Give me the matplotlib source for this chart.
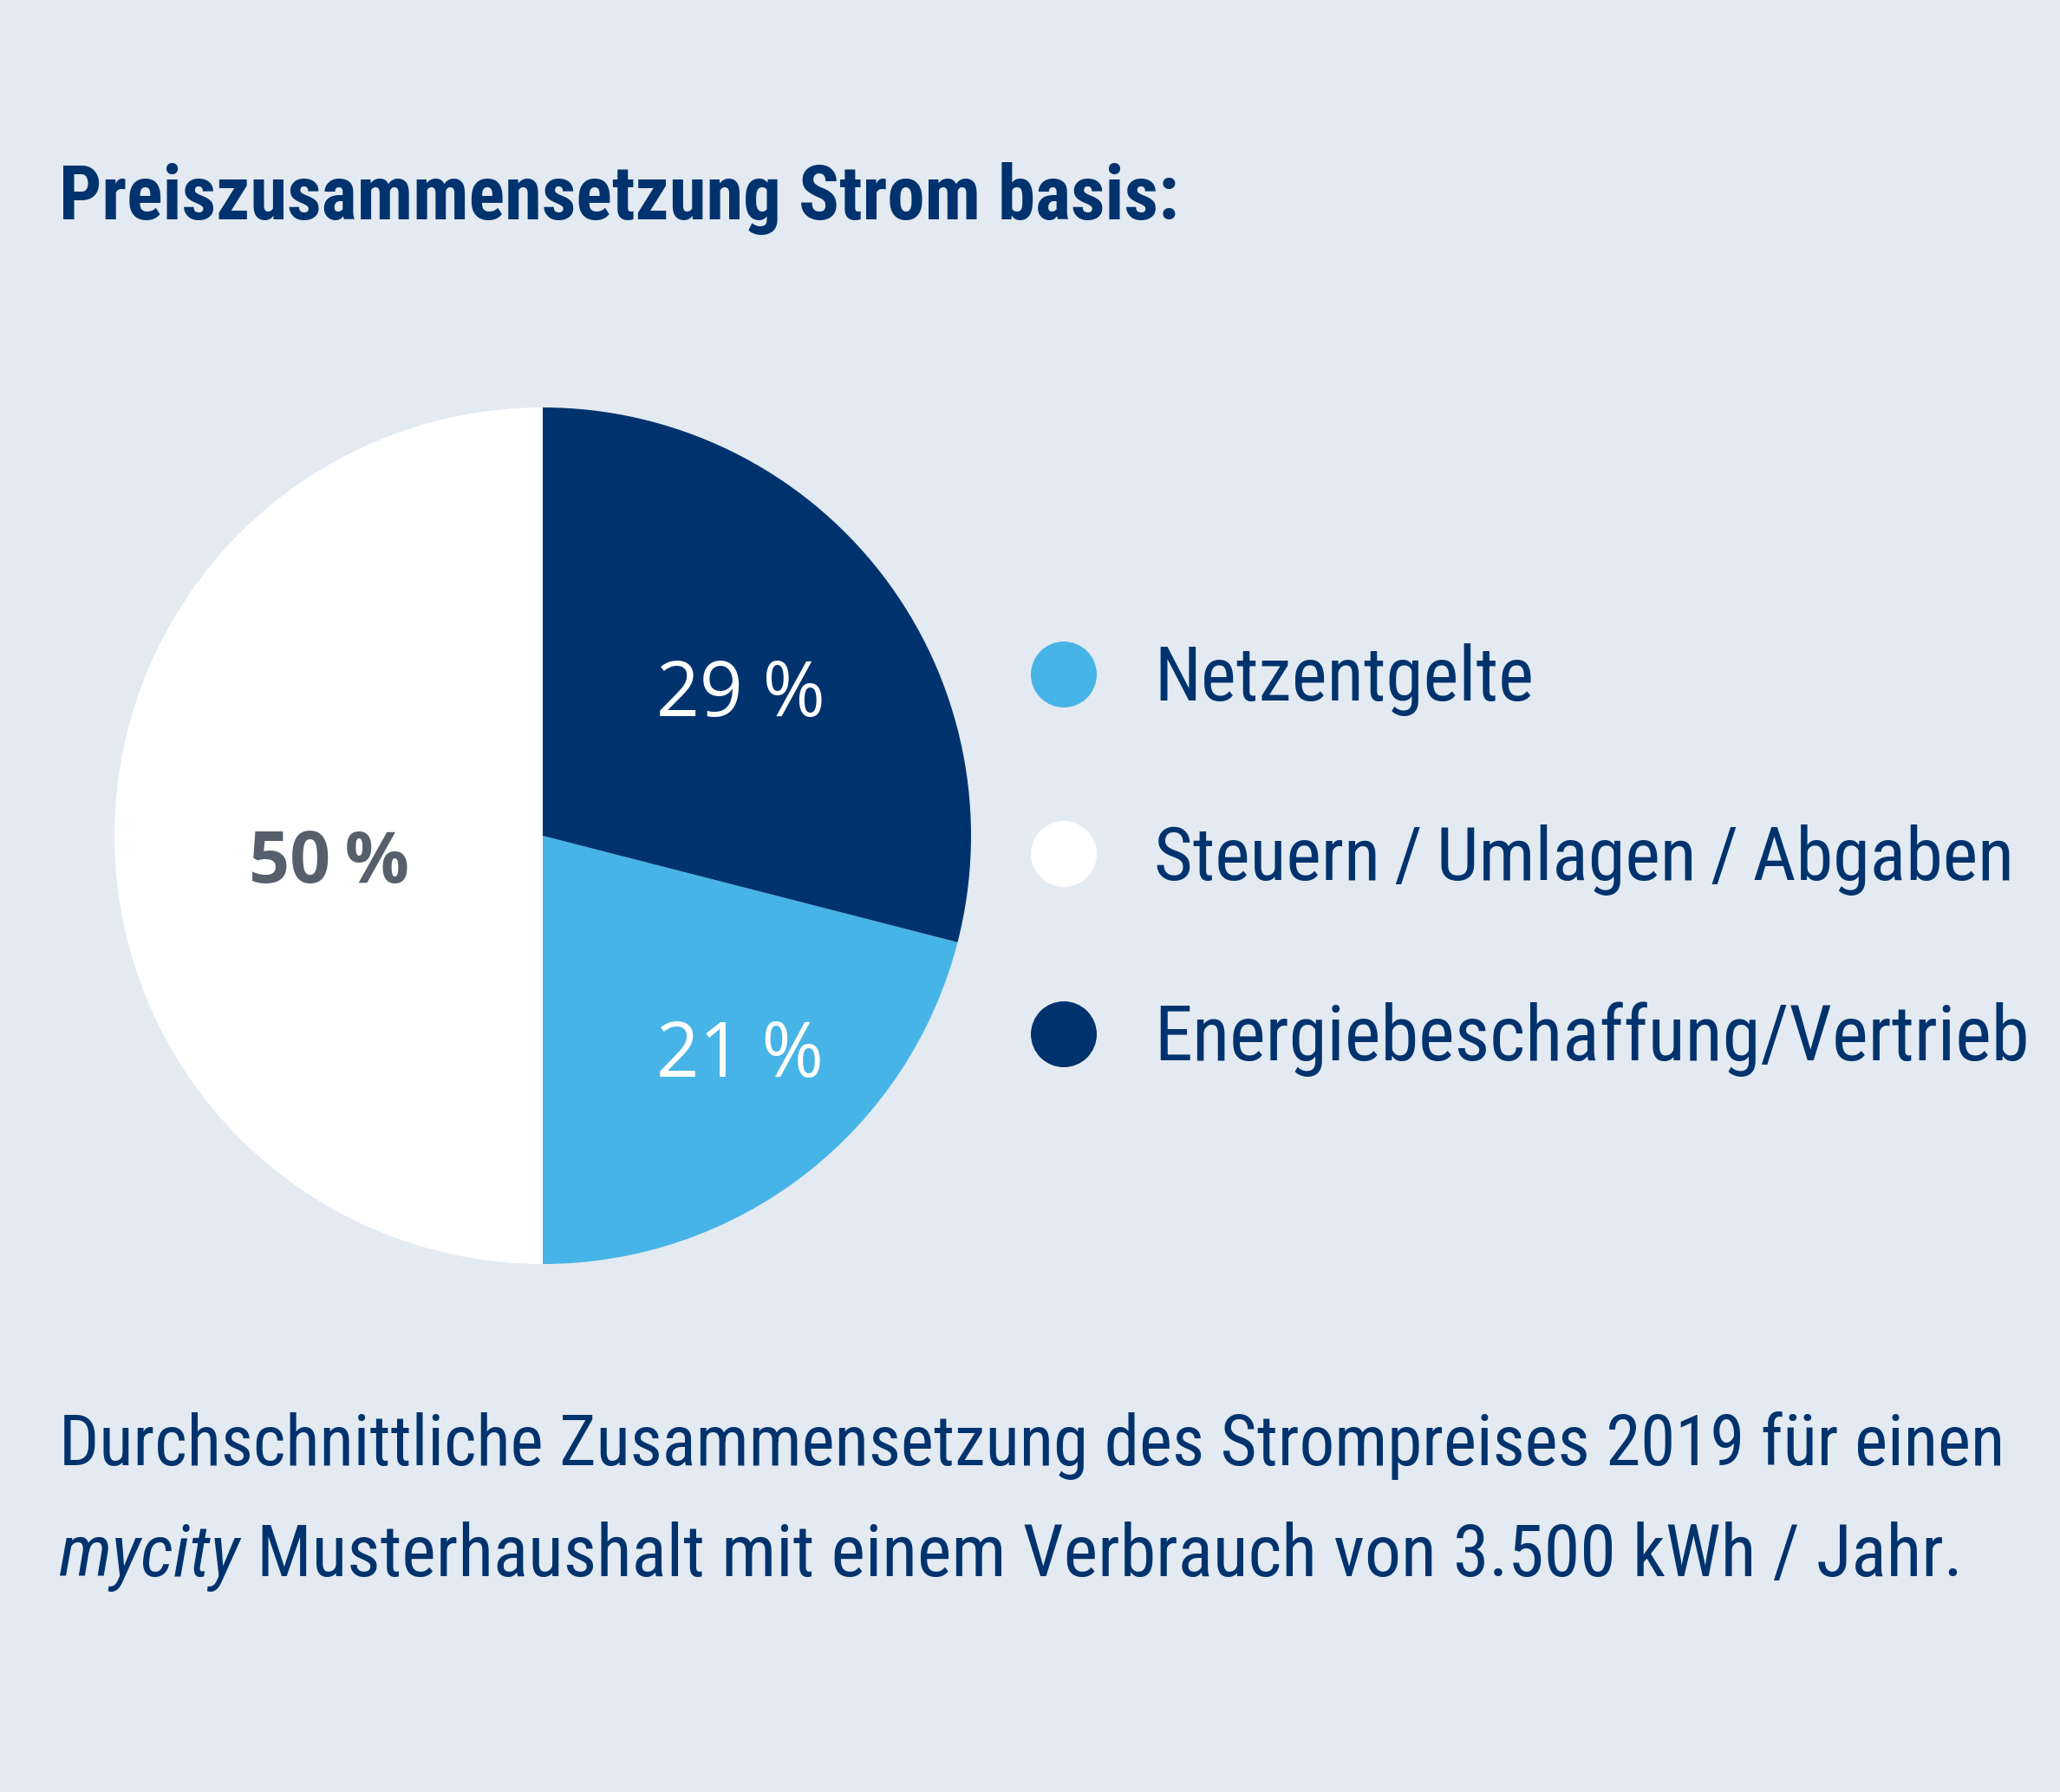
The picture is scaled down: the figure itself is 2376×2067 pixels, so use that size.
import matplotlib
matplotlib.use("Agg")
import matplotlib.pyplot as plt
from matplotlib import font_manager
from matplotlib.patches import Circle

# ---- data ----
categories = ["Netzentgelte", "Steuern\u2009/\u2009Umlagen\u2009/\u2009Abgaben", "Energiebeschaffung/Vertrieb"]
shares = [21, 50, 29]
colors = ["#46B4E6", "#FFFFFF", "#00336E"]
pct_labels = ["21 %", "50\u2009%", "29 %"]
title = "Preiszusammensetzung Strom basis:"
note_line1 = "Durchschnittliche Zusammensetzung des Strompreises 2019 für einen"
note_italic = "mycity"
note_line2 = " Musterhaushalt mit einem Verbrauch von 3.500 kWh / Jahr."

BG = "#E4EAF1"
NAVY = "#00336E"

names = {f.name for f in font_manager.fontManager.ttflist}
cond = None
for c in ["Liberation Sans Narrow", "Roboto Condensed", "Open Sans Condensed", "DejaVu Sans Condensed", "Noto Sans Display", "Noto Sans"]:
    if c in names:
        cond = c
        break
if cond is None:
    cond = "DejaVu Sans"
lab_font = "Open Sans" if "Open Sans" in names else "DejaVu Sans"

W, H = 2376, 2067
fig = plt.figure(figsize=(W / 100, H / 100), dpi=100)
fig.patch.set_facecolor(BG)

# pie
cx, cy, r = 626, 964, 494
ax = fig.add_axes([(cx - r) / W, (H - cy - r) / H, 2 * r / W, 2 * r / H])
order = [1, 0, 2]  # white from top going CCW, then light blue, then navy
ax.pie([shares[i] for i in order], colors=[colors[i] for i in order],
       startangle=90, counterclock=True, radius=1,
       wedgeprops=dict(linewidth=0, edgecolor="none"))
ax.set_xlim(-1, 1)
ax.set_ylim(-1, 1)
ax.set_aspect("equal")
ax.axis("off")
ax.set_zorder(1)

# overlay axes in pixel coordinates
bg = fig.add_axes([0, 0, 1, 1])
bg.set_xlim(0, W)
bg.set_ylim(H, 0)
bg.axis("off")
bg.set_zorder(2)
renderer = fig.canvas.get_renderer()


def fit_text(x, y, s, target_w, size0, **kw):
    t = bg.text(x, y, s, fontsize=size0, va="baseline", ha="left", **kw)
    w = t.get_window_extent(renderer).width
    t.set_fontsize(size0 * target_w / w)
    return t


# title
fit_text(68, 253, title, 1293, 60, color=NAVY, fontweight="bold", family=[cond, "DejaVu Sans"])

# percent labels
fit_text(757, 826, pct_labels[2], 195, 50, color="white", fontweight="medium", family=[lab_font, "DejaVu Sans"])
fit_text(757, 1242, pct_labels[0], 193, 50, color="white", fontweight="medium", family=[lab_font, "DejaVu Sans"])
fit_text(287, 1018, pct_labels[1], 185, 50, color="#56606C", fontweight="bold", family=[lab_font, "DejaVu Sans"])

# legend
leg_y = [778, 985, 1193]
for yy, col in zip(leg_y, colors):
    bg.add_patch(Circle((1227, yy), 38, facecolor=col, edgecolor="none"))
legend_w = [438, 992, 1010]
for yy, lab, tw in zip(leg_y, categories, legend_w):
    fit_text(1331, yy + 30, lab, tw, 50, color=NAVY, family=[cond, "DejaVu Sans"])

# footnote
t0 = fit_text(68, 1690, note_line1, 2246, 50, color=NAVY, family=[cond, "DejaVu Sans"])
fs1 = t0.get_fontsize()
t1 = bg.text(68, 1818, note_italic, fontsize=fs1, va="baseline", ha="left", color=NAVY,
             style="italic", family=[cond, "DejaVu Sans"])
t2 = bg.text(68, 1818, note_line2, fontsize=fs1, va="baseline", ha="left", color=NAVY,
             family=[cond, "DejaVu Sans"])
w1 = t1.get_window_extent(renderer).width
w2 = t2.get_window_extent(renderer).width
k = (2262 - 68) / (w1 + w2)
fs2 = fs1 * k
t1.set_fontsize(fs2)
t2.set_fontsize(fs2)
w1 = t1.get_window_extent(renderer).width
t2.set_x(68 + w1)

fig.savefig("out.png", dpi=100, facecolor=BG)
